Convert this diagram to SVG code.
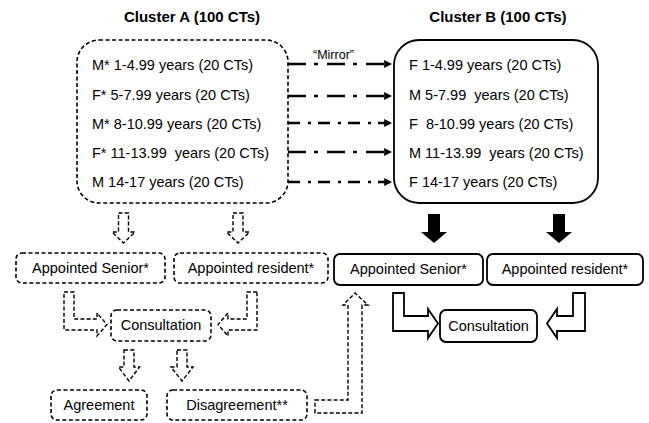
<svg xmlns="http://www.w3.org/2000/svg" width="649" height="423" viewBox="0 0 649 423">
<style>
text{font-family:"Liberation Sans",Arial,sans-serif;font-size:14.5px;fill:#000;white-space:pre}
.title{font-weight:bold;font-size:15px}
.c{text-anchor:middle}
.dbox{fill:#fff;stroke:#000;stroke-width:1.6;stroke-dasharray:4 2.5}
.sbox{fill:#fff;stroke:#000;stroke-width:1.8}
.harr{fill:#fff;stroke:#000;stroke-width:1.4;stroke-dasharray:4 2.2;stroke-linejoin:miter}
.sarr{fill:#fff;stroke:#000;stroke-width:1.8;stroke-linejoin:miter}
.farr{fill:#000;stroke:none}
.mir{stroke:#000;stroke-width:2.6;fill:none}
.longd{stroke-dasharray:18 8 4 9}
.shortd{stroke-dasharray:12 8 3 7}
</style>
<defs>
<marker id="ah" viewBox="0 0 10 10" refX="10" refY="5" markerWidth="3" markerHeight="3" orient="auto" markerUnits="strokeWidth">
<path d="M0,0 L10,5 L0,10 Z" fill="#000"/>
</marker>
</defs>

<text class="title c" x="192" y="22">Cluster A (100 CTs)</text>
<text class="title c" x="498" y="22">Cluster B (100 CTs)</text>

<g id="clusterA">
<rect class="dbox" x="77" y="40" width="211" height="163" rx="22"/>
<text x="92" y="70">M* 1-4.99 years (20 CTs)</text>
<text x="92" y="100">F* 5-7.99 years (20 CTs)</text>
<text x="92" y="129">M* 8-10.99 years (20 CTs)</text>
<text x="92" y="158" xml:space="preserve">F* 11-13.99  years (20 CTs)</text>
<text x="92" y="187">M 14-17 years (20 CTs)</text>
</g>

<g id="clusterB">
<rect class="sbox" x="394" y="40" width="204" height="163" rx="25"/>
<text x="409" y="70">F 1-4.99 years (20 CTs)</text>
<text x="409" y="100" xml:space="preserve">M 5-7.99  years (20 CTs)</text>
<text x="409" y="129" xml:space="preserve">F  8-10.99 years (20 CTs)</text>
<text x="409" y="158" xml:space="preserve">M 11-13.99  years (20 CTs)</text>
<text x="409" y="187">F 14-17 years (20 CTs)</text>
</g>

<g id="seniorA"><rect class="dbox" x="16" y="253" width="149" height="30" rx="6"/><text class="c" x="90.5" y="273">Appointed Senior*</text></g>
<g id="residentA"><rect class="dbox" x="174" y="253" width="154" height="30" rx="6"/><text class="c" x="251" y="273">Appointed resident*</text></g>
<g id="consultA"><rect class="dbox" x="111" y="310" width="100" height="31" rx="6"/><text class="c" x="161" y="330">Consultation</text></g>
<g id="agreement"><rect class="dbox" x="51" y="390" width="96" height="30" rx="6"/><text class="c" x="99" y="410">Agreement</text></g>
<g id="disagreement"><rect class="dbox" x="167" y="390" width="140" height="30" rx="6"/><text class="c" x="237" y="410">Disagreement**</text></g>

<g id="seniorB"><rect class="sbox" x="334" y="254" width="149" height="31" rx="6"/><text class="c" x="408.5" y="274">Appointed Senior*</text></g>
<g id="residentB"><rect class="sbox" x="487" y="254" width="156" height="31" rx="6"/><text class="c" x="565" y="274">Appointed resident*</text></g>
<g id="consultB"><rect class="sbox" x="440" y="310" width="97" height="32" rx="6"/><text class="c" x="488.5" y="331">Consultation</text></g>

<g id="connectors">
<text x="313" y="59" style="font-size:12.5px">“Mirror”</text>
<line class="mir longd" x1="288" y1="64" x2="392" y2="64" marker-end="url(#ah)"/>
<line class="mir longd" x1="288" y1="96" x2="392" y2="96" marker-end="url(#ah)"/>
<line class="mir shortd" x1="288" y1="123" x2="392" y2="123" marker-end="url(#ah)"/>
<line class="mir longd" x1="288" y1="152" x2="392" y2="152" marker-end="url(#ah)"/>
<line class="mir shortd" x1="288" y1="182" x2="392" y2="182" marker-end="url(#ah)"/>

<path class="harr" d="M118.5,213 H128.5 V232 H135 L123.5,243 L112,232 H118.5 Z"/>
<path class="harr" d="M233,213 H243 V232 H249.5 L238,243 L226.5,232 H233 Z"/>
<path class="harr" d="M64,292 H74 V319 H97 V313 L107,324.5 L97,336 V330 H64 Z"/>
<path class="harr" d="M257,292 H247 V319 H228 V313 L218,324.5 L228,336 V330 H257 Z"/>
<path class="harr" d="M124,350 H134 V367 H139.5 L129,381 L118.5,367 H124 Z"/>
<path class="harr" d="M177,350 H187 V367 H193 L182,381 L171,367 H177 Z"/>
<path class="harr" d="M315,400 H348 V305 H343 L355,293 L368,305 H362 V413 H315 Z"/>

<path class="farr" d="M428,214 H440 V232 H447 L434,243 L421,232 H428 Z"/>
<path class="farr" d="M553,214 H565 V232 H572 L559,243 L546,232 H553 Z"/>
<path class="sarr" d="M393,293 H404 V316 H428 V309 L438,323.5 L428,338 V331 H393 Z"/>
<path class="sarr" d="M585,293 H573 V316 H557 V309 L547,323.5 L557,338 V331 H585 Z"/>
</g>
</svg>
